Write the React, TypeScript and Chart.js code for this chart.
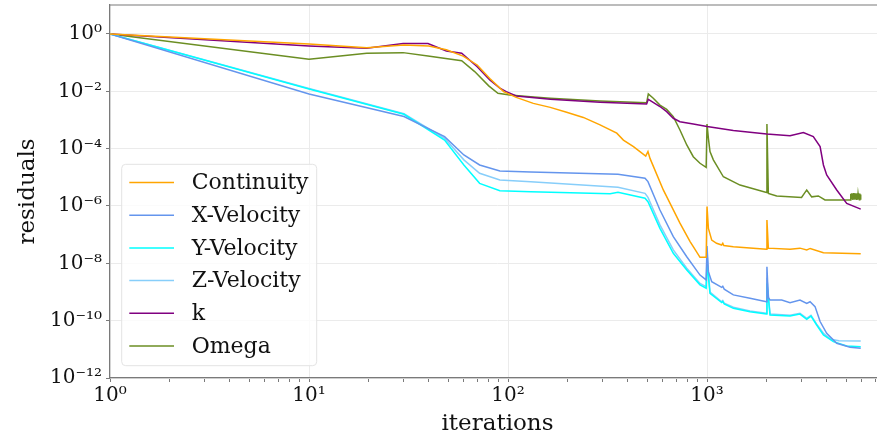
import React, { useEffect, useRef } from "react";
import { Chart, registerables } from "chart.js";

Chart.register(...registerables);

// ---- data (x = iteration, values = log10 of residual) ----
const seriesNames = ["Continuity", "X-Velocity", "Y-Velocity", "Z-Velocity", "k", "Omega"];
const seriesColors = ["#FFA500", "#6495ED", "#00FFFF", "#87CEFA", "#800080", "#6B8E23"];

const continuityIter = [1, 10, 19.5, 30, 40, 49, 59.5, 70, 81, 95, 110, 134, 163, 197, 239, 290, 352, 380, 427, 492, 505, 517, 603, 731, 822, 853, 922, 990, 1000, 1016, 1056, 1117, 1185, 1200, 1215, 1356, 1990, 2000, 2033, 2613, 2931, 3170, 3300, 3845, 5920];
const continuityLog = [0, -0.35, -0.48, -0.38, -0.42, -0.55, -0.77, -1.08, -1.55, -2.01, -2.21, -2.42, -2.56, -2.73, -2.91, -3.17, -3.46, -3.70, -3.93, -4.26, -4.10, -4.34, -5.44, -6.60, -7.24, -7.42, -7.79, -7.79, -6.02, -6.78, -7.19, -7.30, -7.36, -7.30, -7.38, -7.42, -7.51, -6.49, -7.47, -7.51, -7.47, -7.53, -7.48, -7.63, -7.67];

const xVelIter = [1, 10, 30, 48, 60, 72, 91, 130, 357, 488, 505, 580, 677, 791, 922, 990, 1000, 1016, 1056, 1185, 1200, 1220, 1356, 1644, 1990, 2000, 2033, 2073, 2373, 2613, 2931, 3170, 3295, 3490, 3700, 3993, 4485, 5233, 5920];
const xVelLog = [0, -2.09, -2.88, -3.58, -4.22, -4.57, -4.78, -4.81, -4.89, -5.03, -5.15, -6.14, -7.07, -7.77, -8.41, -8.58, -7.40, -8.29, -8.64, -8.84, -8.80, -8.90, -9.10, -9.22, -9.34, -8.12, -9.20, -9.28, -9.28, -9.37, -9.28, -9.40, -9.34, -9.51, -10.03, -10.44, -10.79, -10.93, -10.96];

const yVelIter = [1, 10, 30, 48, 60, 72, 91, 130, 326, 357, 488, 505, 580, 677, 791, 922, 990, 1000, 1035, 1185, 1200, 1220, 1356, 1644, 1990, 2000, 2073, 2613, 2931, 3170, 3330, 3556, 3845, 4315, 5035, 5920];
const yVelLog = [0, -1.92, -2.80, -3.70, -4.57, -5.21, -5.47, -5.50, -5.57, -5.52, -5.73, -5.85, -6.78, -7.65, -8.23, -8.75, -8.87, -8.00, -9.05, -9.37, -9.33, -9.42, -9.57, -9.69, -9.77, -8.70, -9.80, -9.84, -9.77, -9.95, -9.84, -10.15, -10.50, -10.73, -10.88, -10.91];

const zVelIter = [1, 10, 30, 48, 60, 72, 91, 130, 357, 488, 505, 580, 677, 791, 922, 990, 1000, 1035, 1185, 1200, 1220, 1356, 1644, 1990, 2000, 2073, 2613, 2931, 3170, 3330, 3556, 3845, 4200, 4600, 5920];
const zVelLog = [0, -1.90, -2.78, -3.64, -4.39, -4.86, -5.09, -5.15, -5.35, -5.56, -5.70, -6.66, -7.53, -8.17, -8.70, -8.81, -7.65, -9.00, -9.34, -9.30, -9.39, -9.53, -9.66, -9.74, -8.50, -9.77, -9.81, -9.74, -9.92, -9.81, -10.12, -10.44, -10.65, -10.70, -10.71];

const kIter = [1, 10, 19.5, 29.7, 39.6, 49, 58.5, 70, 81, 91, 98, 110, 163, 290, 497, 507, 580, 627, 677, 731, 853, 1000, 1356, 1995, 2613, 3049, 3420, 3700, 3845, 3993, 4485, 5035, 5920];
const kLog = [0, -0.42, -0.50, -0.33, -0.33, -0.59, -0.67, -1.14, -1.60, -1.89, -2.01, -2.16, -2.28, -2.38, -2.44, -2.28, -2.53, -2.71, -2.94, -3.06, -3.14, -3.23, -3.37, -3.49, -3.55, -3.44, -3.58, -3.93, -4.57, -4.92, -5.44, -5.91, -6.11];

const omegaIter = [1, 10, 19.5, 29.7, 39.6, 58.5, 68, 80, 89, 102, 130, 163, 290, 497, 507, 537, 580, 627, 677, 731, 791, 853, 922, 990, 1000, 1016, 1035, 1076, 1208, 1465, 1990, 2000, 2033, 2239, 2985, 3170, 3357, 3626, 3915, 5233, 5260, 5290, 5320, 5350, 5380, 5410, 5440, 5470, 5500, 5530, 5560, 5590, 5620, 5650, 5680, 5710, 5740, 5770, 5800, 5830, 5860, 5890, 5920];
const omegaLog = [0, -0.88, -0.67, -0.65, -0.77, -0.93, -1.31, -1.81, -2.07, -2.13, -2.19, -2.24, -2.34, -2.40, -2.09, -2.24, -2.48, -2.63, -2.88, -3.35, -3.87, -4.28, -4.51, -4.65, -3.14, -3.64, -4.10, -4.39, -4.98, -5.27, -5.53, -3.14, -5.56, -5.65, -5.70, -5.44, -5.68, -5.65, -5.79, -5.79, -5.58, -5.78, -5.56, -5.77, -5.57, -5.79, -5.55, -5.76, -5.58, -5.78, -5.56, -5.77, -5.57, -5.79, -5.56, -5.78, -5.58, -5.77, -5.56, -5.78, -5.57, -5.76, -5.60];

const seriesIters = [continuityIter, xVelIter, yVelIter, zVelIter, kIter, omegaIter];
const seriesLogs = [continuityLog, xVelLog, yVelLog, zVelLog, kLog, omegaLog];

const xMajorTicks = [1, 10, 100, 1000];
const xMinorTicks = [2, 3, 4, 5, 6, 7, 8, 9, 20, 30, 40, 50, 60, 70, 80, 90, 200, 300, 400, 500, 600, 700, 800, 900, 2000, 3000, 4000, 5000, 6000, 7000];
const yMajorTicks = [1e-12, 1e-10, 1e-8, 1e-6, 1e-4, 1e-2, 1];
const xRange = [1, 7840];
const yRange = [1e-12, 10.27];

const FONT = "'DejaVu Serif', serif";
const SPINE = "#7a7a7a";
const GRID = "#ebebeb";
const TEXT = "#111111";

const SUP: Record<string, string> = { "0": "⁰", "1": "¹", "2": "²", "3": "³", "4": "⁴", "5": "⁵", "6": "⁶", "7": "⁷", "8": "⁸", "9": "⁹", "-": "⁻" };
function powLabel(v: number): string {
  const e = Math.round(Math.log10(v));
  return "10" + String(e).split("").map((c) => SUP[c] ?? c).join("");
}

const topSpinePlugin = {
  id: "topSpine",
  afterDatasetsDraw(chart: any) {
    const { ctx, chartArea } = chart;
    ctx.save();
    ctx.strokeStyle = SPINE;
    ctx.lineWidth = 1.2;
    ctx.beginPath();
    ctx.moveTo(chartArea.left, chartArea.top);
    ctx.lineTo(chartArea.right, chartArea.top);
    ctx.stroke();
    ctx.restore();
  },
};

const boxLegendPlugin = {
  id: "boxLegend",
  afterDatasetsDraw(chart: any) {
    const { ctx, chartArea } = chart;
    const sets = chart.data.datasets;
    const w = 195;
    const rowH = 32.67;
    const h = 201.4;
    const left = chartArea.left + 11.7;
    const top = chartArea.bottom - 12.3 - h;
    const r = 4;
    ctx.save();
    ctx.beginPath();
    ctx.moveTo(left + r, top);
    ctx.lineTo(left + w - r, top);
    ctx.arcTo(left + w, top, left + w, top + r, r);
    ctx.lineTo(left + w, top + h - r);
    ctx.arcTo(left + w, top + h, left + w - r, top + h, r);
    ctx.lineTo(left + r, top + h);
    ctx.arcTo(left, top + h, left, top + h - r, r);
    ctx.lineTo(left, top + r);
    ctx.arcTo(left, top, left + r, top, r);
    ctx.closePath();
    ctx.fillStyle = "rgba(255,255,255,0.8)";
    ctx.fill();
    ctx.strokeStyle = "#e3e3e3";
    ctx.lineWidth = 1;
    ctx.stroke();
    ctx.font = "22px " + FONT;
    ctx.textBaseline = "middle";
    ctx.textAlign = "left";
    sets.forEach((ds: any, i: number) => {
      const y = top + 18.3 + i * rowH;
      ctx.strokeStyle = ds.borderColor;
      ctx.lineWidth = ds.borderWidth;
      ctx.beginPath();
      ctx.moveTo(left + 7.6, y);
      ctx.lineTo(left + 52.3, y);
      ctx.stroke();
      ctx.fillStyle = TEXT;
      ctx.fillText(ds.label, left + 70, y + 1);
    });
    ctx.restore();
  },
};

export default function App() {
  const ref = useRef<HTMLCanvasElement | null>(null);

  useEffect(() => {
    if (!ref.current) return;
    Chart.defaults.font.family = FONT;
    const datasets = seriesNames.map((name, i) => ({
      label: name,
      data: seriesIters[i].map((x, j) => ({ x, y: Math.pow(10, seriesLogs[i][j]) })),
      borderColor: seriesColors[i],
      backgroundColor: seriesColors[i],
      borderWidth: 1.5,
      pointRadius: 0,
      tension: 0,
      fill: false,
    }));

    const chart = new Chart(ref.current, {
      type: "line",
      data: { datasets },
      options: {
        responsive: false,
        animation: false,
        devicePixelRatio: 1,
        layout: { padding: { left: 0, right: 5, top: 5, bottom: 0 } },
        plugins: { legend: { display: false }, tooltip: { enabled: false } },
        scales: {
          x: {
            type: "logarithmic",
            min: xRange[0],
            max: xRange[1],
            bounds: "data",
            afterBuildTicks: (axis: any) => {
              axis.ticks = [...xMajorTicks, ...xMinorTicks].sort((a, b) => a - b).map((v) => ({ value: v }));
            },
            afterFit: (s: any) => {
              s.height = 60;
              s.paddingLeft = 0;
              s.paddingRight = 0;
            },
            grid: {
              color: (c: any) => (c.tick && xMajorTicks.includes(c.tick.value) ? GRID : "rgba(0,0,0,0)"),
              tickColor: SPINE,
              tickLength: 4,
              lineWidth: 1,
            },
            border: { color: SPINE, width: 1.2 },
            ticks: {
              autoSkip: false,
              maxRotation: 0,
              padding: 2,
              color: TEXT,
              font: { size: 20, family: FONT },
              callback: (v: any) => (xMajorTicks.includes(Number(v)) ? powLabel(Number(v)) : ""),
            },
            title: {
              display: true,
              text: "iterations",
              color: TEXT,
              font: { size: 23, family: FONT },
              padding: { top: 0, bottom: 0 },
            },
          },
          y: {
            type: "logarithmic",
            min: yRange[0],
            max: yRange[1],
            bounds: "data",
            afterBuildTicks: (axis: any) => {
              axis.ticks = yMajorTicks.map((v) => ({ value: v }));
            },
            afterFit: (s: any) => {
              s.width = 110;
              s.paddingTop = 0;
              s.paddingBottom = 0;
            },
            grid: { color: GRID, tickColor: SPINE, tickLength: 4, lineWidth: 1 },
            border: { color: SPINE, width: 1.2 },
            ticks: {
              autoSkip: false,
              padding: 4,
              color: TEXT,
              font: { size: 20, family: FONT },
              callback: (v: any) => powLabel(Number(v)),
            },
            title: {
              display: true,
              text: "residuals",
              color: TEXT,
              font: { size: 23, family: FONT },
              padding: { top: 14, bottom: 0 },
            },
          },
        },
      },
      plugins: [topSpinePlugin, boxLegendPlugin],
    } as any);

    return () => chart.destroy();
  }, []);

  return (
    <div style={{ position: "fixed", left: 0, top: 0, width: 877, height: 436, overflow: "hidden", background: "#fff" }}>
      <canvas ref={ref} width={890} height={438} style={{ display: "block", width: 890, height: 438 }} />
    </div>
  );
}
